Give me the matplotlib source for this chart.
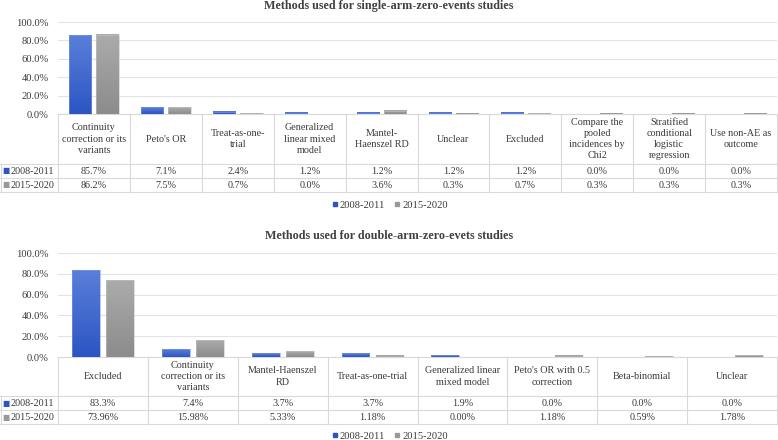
import numpy as np
import matplotlib
matplotlib.use('Agg')
import matplotlib.pyplot as plt
from matplotlib.colors import LinearSegmentedColormap
from matplotlib.lines import Line2D

plt.rcParams['font.family'] = ['Liberation Serif', 'DejaVu Sans']

W, H = 778, 440

series = ['2008-2011', '2015-2020']
blue_top, blue_bot = '#5a7fd9', '#2b55c4'
gray_top, gray_bot = '#ababab', '#8c8c8c'

single_methods = ['Continuity\ncorrection or its\nvariants', "Peto's OR", 'Treat-as-one-\ntrial',
                  'Generalized\nlinear mixed\nmodel', 'Mantel-\nHaenszel RD', 'Unclear', 'Excluded',
                  'Compare the\npooled\nincidences by\nChi2', 'Stratified\nconditional\nlogistic\nregression',
                  'Use non-AE as\noutcome']
single_2008 = [85.7, 7.1, 2.4, 1.2, 1.2, 1.2, 1.2, 0.0, 0.0, 0.0]
single_2015 = [86.2, 7.5, 0.7, 0.0, 3.6, 0.3, 0.7, 0.3, 0.3, 0.3]

double_methods = ['Excluded', 'Continuity\ncorrection or its\nvariants', 'Mantel-Haenszel\nRD',
                  'Treat-as-one-trial', 'Generalized linear\nmixed model', "Peto's OR with 0.5\ncorrection",
                  'Beta-binomial', 'Unclear']
double_2008 = [83.3, 7.4, 3.7, 3.7, 1.9, 0.0, 0.0, 0.0]
double_2015 = [73.96, 15.98, 5.33, 1.18, 0.00, 1.18, 0.59, 1.78]

FS = 7.3
TXT = '#3a3a3a'
GRID = '#d9d9d9'


def grad_bars(ax, bars, c_top, c_bot):
    cmap = LinearSegmentedColormap.from_list('g', [c_bot, c_top])
    grad = np.linspace(0, 1, 64).reshape(-1, 1)
    for b in bars:
        x0, y0, w, h = b.get_x(), b.get_y(), b.get_width(), b.get_height()
        if h <= 0:
            continue
        ax.imshow(grad, cmap=cmap, extent=(x0, x0 + w, y0, y0 + h), origin='lower',
                  aspect='auto', zorder=2)
        b.set_facecolor('none')


def panel(fig, methods, v1, v2, dec2, title, title_y, ax_top, ax_bot, head_h, row_h, leg_y):
    left, right = 58, 777
    axw, axh = right - left, ax_bot - ax_top
    ax = fig.add_axes([left / W, 1 - ax_bot / H, axw / W, axh / H])
    n = len(methods)
    x = np.arange(n)
    bw, off = 0.31, 0.19
    b1 = ax.bar(x - off, v1, bw, edgecolor='#7f9be0', linewidth=0.4, zorder=3)
    b2 = ax.bar(x + off, v2, bw, edgecolor='#c4c4c4', linewidth=0.4, zorder=3)
    grad_bars(ax, b1, blue_top, blue_bot)
    grad_bars(ax, b2, gray_top, gray_bot)
    ax.set_xlim(-0.5, n - 0.5)
    ax.set_ylim(0, 100)
    ax.set_yticks(np.arange(0, 101, 20))
    ax.set_yticklabels([f'{t:.1f}%' for t in np.arange(0, 101, 20)], fontsize=7.6, color=TXT)
    ax.set_xticks([])
    ax.tick_params(axis='y', length=0, pad=6.5)
    ax.grid(axis='y', color='#e3e3e3', linewidth=0.8, zorder=0)
    ax.set_axisbelow(True)
    for s in ax.spines.values():
        s.set_visible(False)

    # table below the axes, laid out in pixel units converted to axes fractions
    def xa(px):
        return (px - left) / axw

    def ya(py):
        return (ax_bot - py) / axh

    cw = axw / n
    y_head, y_r1, y_r2, y_end = ax_bot, ax_bot + head_h, ax_bot + head_h + row_h, ax_bot + head_h + 2 * row_h
    line_kw = dict(transform=ax.transAxes, clip_on=False, color=GRID, linewidth=0.8, zorder=1)
    ax.plot([xa(left), xa(right)], [ya(y_head)] * 2, **line_kw)
    for yy in (y_r1, y_r2, y_end):
        ax.plot([xa(0), xa(right)], [ya(yy)] * 2, **line_kw)
    for k in range(n + 1):
        ax.plot([xa(left + k * cw)] * 2, [ya(y_head), ya(y_end)], **line_kw)
    ax.plot([xa(0.5)] * 2, [ya(y_r1), ya(y_end)], **line_kw)

    cell_text = [[f'{v:.1f}%' for v in v1], [f'{v:.{dec2}f}%' for v in v2]]
    for j, m in enumerate(methods):
        cx = xa(left + (j + 0.5) * cw)
        ax.text(cx, ya(y_head + head_h / 2), m, transform=ax.transAxes, ha='center', va='center',
                fontsize=FS, color=TXT, linespacing=1.32)
        for i in range(2):
            ax.text(cx, ya(y_r1 + (i + 0.5) * row_h), cell_text[i][j], transform=ax.transAxes,
                    ha='center', va='center', fontsize=FS, color=TXT)
    for i, (s, col) in enumerate(zip(series, [blue_bot, '#999999'])):
        yc = ya(y_r1 + (i + 0.5) * row_h)
        ax.text(xa(5.5), yc, '\u25a0', transform=ax.transAxes, ha='center', va='center',
                fontsize=5.5, color=col, family='DejaVu Sans')
        ax.text(xa(10.5), yc, s, transform=ax.transAxes, ha='left', va='center',
                fontsize=FS, color=TXT)

    fig.text(389 / W, 1 - title_y / H, title, ha='center', va='center', fontsize=8.7,
             fontweight='bold', color='#404040')
    handles = [Line2D([], [], marker='s', ls='', color=c, markersize=3.5, label=s)
               for c, s in zip([blue_bot, '#999999'], series)]
    fig.legend(handles=handles, loc='center', bbox_to_anchor=(389 / W, 1 - leg_y / H), ncol=2,
               frameon=False, fontsize=7.6, handletextpad=0.05, columnspacing=0.8, handlelength=0.8,
               labelcolor=TXT)


fig = plt.figure(figsize=(W / 100, H / 100), dpi=100)
panel(fig, single_methods, single_2008, single_2015, 1,
      'Methods used for single-arm-zero-events studies', 5.5, 22, 114, 50, 14, 205)
panel(fig, double_methods, double_2008, double_2015, 2,
      'Methods used for double-arm-zero-evets studies', 236, 253, 357, 39, 14, 436)

fig.savefig('out.png', dpi=100)
